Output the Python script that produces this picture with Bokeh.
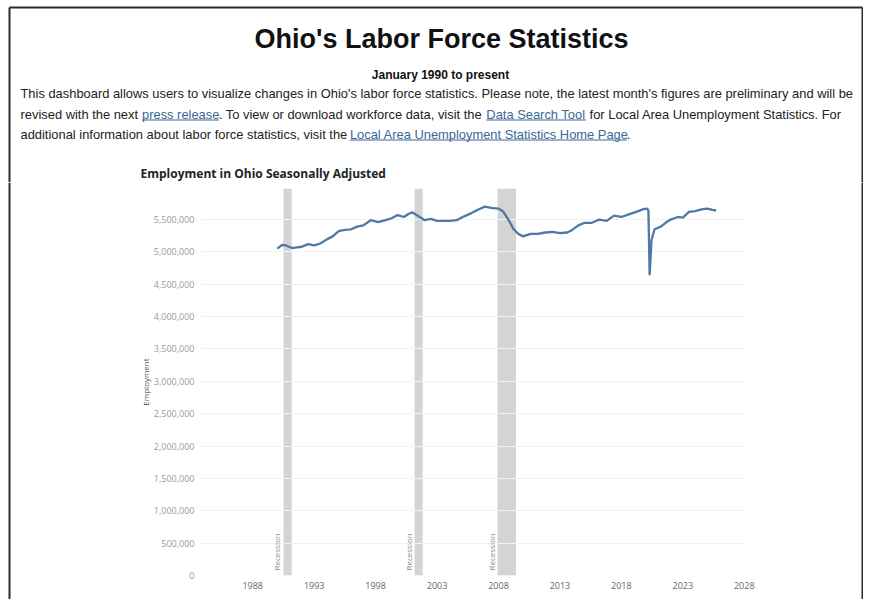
from math import pi
from bokeh.plotting import figure
from bokeh.models import BoxAnnotation, FixedTicker, NumeralTickFormatter, Range1d
from bokeh.layouts import column, row
from bokeh.core.properties import value
from bokeh.embed import file_html
from bokeh.resources import INLINE

# ---------------- data ----------------
years = [1990.00, 1990.40, 1990.70, 1991.20, 1991.60, 1992.00, 1992.50, 1993.00, 1993.50,
         1994.00, 1994.50, 1995.00, 1995.50, 1996.00, 1996.50, 1997.00, 1997.60, 1998.20,
         1998.80, 1999.30, 1999.80, 2000.30, 2000.70, 2001.00, 2001.50, 2002.00, 2002.50,
         2003.00, 2003.50, 2004.00, 2004.60, 2005.20, 2005.80, 2006.40, 2006.90, 2007.40,
         2008.00, 2008.40, 2008.80, 2009.20, 2009.60, 2010.00, 2010.60, 2011.20, 2011.80,
         2012.40, 2013.00, 2013.60, 2014.00, 2014.50, 2015.00, 2015.60, 2016.20, 2016.80,
         2017.40, 2018.00, 2018.60, 2019.20, 2019.80, 2020.10, 2020.20, 2020.30, 2020.45,
         2020.70, 2021.20, 2021.60, 2022.00, 2022.60, 2023.00, 2023.50, 2024.00, 2024.60,
         2025.00, 2025.40, 2025.70]
employment = [5050000, 5110000, 5100000, 5060000, 5070000, 5080000, 5120000, 5100000, 5130000,
              5190000, 5240000, 5320000, 5340000, 5350000, 5390000, 5410000, 5490000, 5460000,
              5490000, 5520000, 5570000, 5540000, 5590000, 5610000, 5550000, 5490000, 5510000,
              5480000, 5480000, 5480000, 5490000, 5550000, 5600000, 5660000, 5700000, 5680000,
              5670000, 5620000, 5500000, 5360000, 5280000, 5240000, 5280000, 5280000, 5300000,
              5310000, 5290000, 5300000, 5340000, 5410000, 5450000, 5450000, 5500000, 5480000,
              5560000, 5540000, 5580000, 5620000, 5660000, 5670000, 5640000, 4640000, 5180000,
              5350000, 5390000, 5450000, 5500000, 5540000, 5530000, 5620000, 5630000, 5660000,
              5670000, 5650000, 5640000]

recession_start = [1990.50, 2001.17, 2007.92]
recession_end = [1991.17, 2001.83, 2009.42]
recession_labels = ["Recession", "Recession", "Recession"]

y_ticks = [0, 500000, 1000000, 1500000, 2000000, 2500000, 3000000,
           3500000, 4000000, 4500000, 5000000, 5500000]
x_ticks = [1988, 1993, 1998, 2003, 2008, 2013, 2018, 2023, 2028]

title_text = "Ohio's Labor Force Statistics"
subtitle_text = "January 1990 to present"
chart_title = "Employment in Ohio Seasonally Adjusted"
y_label = "Employment"

# paragraph: list of lines, each a list of (text, is_link)
paragraph = [
    [("This dashboard allows users to visualize changes in Ohio's labor force statistics. "
      "Please note, the latest month's figures are preliminary and will be", False)],
    [("revised with the next ", False), ("press release", True),
     (". To view or download workforce data, visit the ", False), ("Data Search Tool", True),
     (" for Local Area Unemployment Statistics. For", False)],
    [("additional information about labor force statistics, visit the ", False),
     ("Local Area Unemployment Statistics Home Page", True), (".", False)],
]

# Arial / Liberation Sans advance widths (1/1000 em), used to place link segments
_W = dict(zip("ABCDEFGHIJKLMNOPQRSTUVWXYZ",
              [667, 667, 722, 722, 667, 611, 778, 722, 278, 500, 667, 556, 833, 722, 778, 667,
               778, 722, 667, 611, 722, 667, 944, 667, 667, 611]))
_W.update(dict(zip("abcdefghijklmnopqrstuvwxyz",
                   [556, 556, 500, 556, 556, 278, 556, 556, 222, 222, 500, 222, 833, 556, 556,
                    556, 556, 333, 500, 278, 556, 500, 722, 500, 500, 500])))
_W.update({" ": 278, ".": 278, ",": 278, "'": 191, "-": 333})
_W.update({d: 556 for d in "0123456789"})


def text_width(s, size):
    return 0.993 * sum(_W.get(c, 556) for c in s) * size / 1000.0


W = 863           # total width
HH = 182          # header height
CH = 417          # chart row height
LW, RW = 11, 20   # border strip widths
BORDER = "#2b2b2b"


def pixel_figure(w, h):
    f = figure(width=w, height=h, output_backend="svg", toolbar_location=None,
               x_range=Range1d(0, w), y_range=Range1d(h, 0),
               x_axis_location=None, y_axis_location=None, min_border=0)
    f.frame_align = False
    f.grid.visible = False
    f.outline_line_color = None
    f.background_fill_color = "white"
    f.border_fill_color = "white"
    return f


# ---------------- header (pixel coordinates, y downwards) ----------------
hf = pixel_figure(W, HH)

hf.text(x=[441], y=[38], text=[title_text], text_align="center", text_baseline="middle",
        text_font=value("Liberation Sans"), text_font_size=value("27px"),
        text_font_style="bold", text_color="#111111")
hf.text(x=[440], y=[74], text=[subtitle_text], text_align="center", text_baseline="middle",
        text_font=value("Liberation Sans"), text_font_size=value("12px"),
        text_font_style="bold", text_color="#111111")

FS = 12.9
LINK_COLOR = "#3b6796"
line_y = [93, 114, 134]
seg_x, seg_y, seg_t, seg_c = [], [], [], []
ul_x0, ul_x1, ul_y = [], [], []
for line, yc in zip(paragraph, line_y):
    x = 20
    for seg, is_link in line:
        if is_link:
            x += 1.2
        shown = seg.lstrip(" ")
        lead = text_width(seg[:len(seg) - len(shown)], FS)
        seg_x.append(x + lead)
        seg_y.append(yc)
        seg_t.append(shown.rstrip(" "))
        seg_c.append(LINK_COLOR if is_link else "#222222")
        w = text_width(seg, FS)
        if is_link:
            ul_x0.append(x)
            ul_x1.append(x + w)
            ul_y.append(yc + 5.5)
        x += w
hf.text(x=seg_x, y=seg_y, text=seg_t, text_color=seg_c, text_align="left",
        text_baseline="middle", text_font=value("Liberation Sans"),
        text_font_size=value(f"{FS}px"))
hf.segment(x0=ul_x0, y0=ul_y, x1=ul_x1, y1=ul_y, line_color=LINK_COLOR, line_width=1)

hf.text(x=[140], y=[173], text=[chart_title], text_align="left", text_baseline="middle",
        text_font=value("Open Sans"), text_font_size=value("12px"),
        text_font_style="bold", text_color="#222222")

# dashboard border (top, left, right)
hf.segment(x0=[9, 9, W - 1], y0=[7, 7, 7], x1=[W - 1, 9, W - 1], y1=[7, HH, HH],
           line_color=BORDER, line_width=2)

# side border strips beside the chart
ls = pixel_figure(LW, CH)
ls.segment(x0=[9], y0=[0], x1=[9], y1=[CH], line_color=BORDER, line_width=2)
rs = pixel_figure(RW, CH)
rs.segment(x0=[RW - 1], y0=[0], x1=[RW - 1], y1=[CH], line_color=BORDER, line_width=2)

# ---------------- chart ----------------
PW = W - LW - RW
p = figure(width=PW, height=CH, output_backend="svg", toolbar_location=None,
           x_range=Range1d(1983.75, 2028.1), y_range=Range1d(0, 5980000),
           min_border_left=200 - LW, min_border_right=(LW + PW) - 745, min_border_top=6,
           min_border_bottom=24)
p.frame_align = False
p.outline_line_color = None
p.background_fill_color = "white"
p.border_fill_color = "white"

for s, e in zip(recession_start, recession_end):
    p.add_layout(BoxAnnotation(left=s, right=e, fill_color="#d4d4d4", fill_alpha=1.0,
                               line_color=None, level="image"))

p.text(x=recession_start, y=[0] * len(recession_start), text=recession_labels, angle=pi / 2,
       text_align="left", text_baseline="bottom", x_offset=-1, y_offset=-5,
       text_font=value("Open Sans"), text_font_size="8px", text_color="#8a8a8a")

p.line(years, employment, line_color="#4e79a7", line_width=2.3)

p.xgrid.grid_line_color = None
p.ygrid.grid_line_color = "#f2f2f2"
p.ygrid.ticker = FixedTicker(ticks=y_ticks)

p.yaxis.ticker = FixedTicker(ticks=y_ticks)
p.yaxis.formatter = NumeralTickFormatter(format="0,0")
p.yaxis.axis_line_color = None
p.yaxis.major_tick_line_color = None
p.yaxis.minor_tick_line_color = None
p.yaxis.major_label_text_font = "Open Sans"
p.yaxis.major_label_text_font_size = "9px"
p.yaxis.major_label_text_color = "#9a9a9a"
p.yaxis.major_label_standoff = 0
p.yaxis.axis_label = y_label
p.yaxis.axis_label_text_font = "Open Sans"
p.yaxis.axis_label_text_font_size = "8px"
p.yaxis.axis_label_text_font_style = "normal"
p.yaxis.axis_label_text_color = "#555555"
p.yaxis.axis_label_standoff = 0

p.xaxis.ticker = FixedTicker(ticks=x_ticks)
p.xaxis.axis_line_color = None
p.xaxis.major_tick_line_color = None
p.xaxis.minor_tick_line_color = None
p.xaxis.major_label_text_font = "Open Sans"
p.xaxis.major_label_text_font_size = "9px"
p.xaxis.major_label_text_color = "#666666"
p.xaxis.major_label_standoff = 0

layout = column(hf, row(ls, p, rs, spacing=0), spacing=0)
open("out.html", "w").write(file_html(layout, INLINE))
